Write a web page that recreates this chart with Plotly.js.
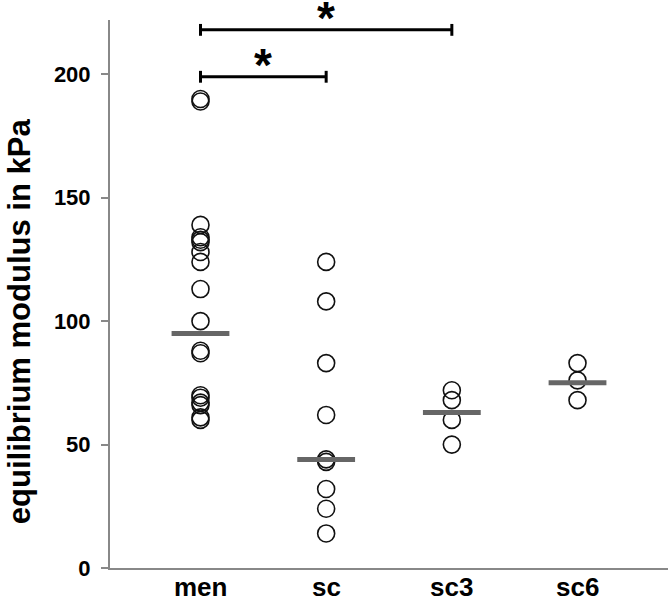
<!DOCTYPE html>
<html>
<head>
<meta charset="utf-8">
<script src="https://cdn.plot.ly/plotly-3.0.1.min.js"></script>
<style>
  html, body { margin: 0; padding: 0; background: #fff; }
  #chart { width: 668px; height: 601px; }
</style>
</head>
<body>
<div id="chart"></div>
<script>
// 類別與數值
const groups = ["men", "sc", "sc3", "sc6"];
const menValues = [190, 189, 139, 134, 133, 132, 128, 124, 113, 100, 88, 87, 70, 69, 67, 66, 61, 60];
const scValues = [124, 108, 83, 62, 44, 43, 32, 24, 14];
const sc3Values = [72, 68, 60, 50];
const sc6Values = [83, 76, 68];
const medians = [95, 44, 63, 75];
// 顯著性比較：[起點組, 終點組, 高度]
const sigPairs = [[0, 2, 218], [0, 1, 199]];
const sigLabels = ["*", "*"];
const yTicks = [0, 50, 100, 150, 200];
const yTitle = "equilibrium modulus in kPa";

const allValues = [menValues, scValues, sc3Values, sc6Values];
const font = "Liberation Sans, Arial, sans-serif";
const halfW = 0.23;
const capH = 2.4;
const toBold = (t) => "<b>" + t + "</b>";

const traces = [];

allValues.forEach((vals, i) => {
  traces.push({
    x: vals.map(() => i),
    y: vals,
    type: "scatter",
    mode: "markers",
    marker: {
      symbol: "circle-open",
      size: 17,
      color: "#111",
      line: { width: 1.6, color: "#111" },
    },
    hoverinfo: "y",
  });
});

// 中位數橫線
medians.forEach((m, i) => {
  traces.push({
    x: [i - halfW, i + halfW],
    y: [m, m],
    type: "scatter",
    mode: "lines",
    line: { color: "#666", width: 5 },
    hoverinfo: "skip",
  });
});

const annotations = [];

// 顯著性橫槓
sigPairs.forEach(([a, b, h], k) => {
  traces.push({
    x: [a, a, null, a, b, null, b, b],
    y: [h - capH, h + capH, null, h, h, null, h - capH, h + capH],
    type: "scatter",
    mode: "lines",
    line: { color: "#000", width: 3 },
    hoverinfo: "skip",
  });
  annotations.push({
    x: (a + b) / 2,
    y: h,
    xref: "x",
    yref: "y",
    text: toBold(sigLabels[k]),
    showarrow: false,
    yanchor: "middle",
    yshift: 12,
    font: { family: font, size: 46, color: "#000" },
  });
});

// X 軸類別標籤
groups.forEach((g, i) => {
  annotations.push({
    x: i,
    y: 0,
    xref: "x",
    yref: "paper",
    yanchor: "top",
    yshift: -2,
    text: toBold(g),
    showarrow: false,
    font: { family: font, size: 26, color: "#000" },
  });
});

// Y 軸標題
annotations.push({
  x: 0,
  xref: "paper",
  xanchor: "center",
  xshift: -91,
  y: 100,
  yref: "y",
  yanchor: "middle",
  textangle: -90,
  text: toBold(yTitle),
  showarrow: false,
  font: { family: font, size: 31, color: "#000" },
});

const layout = {
  width: 668,
  height: 601,
  showlegend: false,
  paper_bgcolor: "white",
  plot_bgcolor: "white",
  margin: { l: 110, r: 0, t: 20, b: 33 },
  font: { family: font, color: "#000" },
  xaxis: {
    type: "linear",
    range: [-0.72, 3.72],
    showticklabels: false,
    showgrid: false,
    zeroline: false,
    showline: true,
    linecolor: "#888",
    linewidth: 2,
    ticks: "",
  },
  yaxis: {
    range: [0, 222],
    tickvals: yTicks,
    ticktext: yTicks.map((t) => toBold(t)),
    showgrid: false,
    zeroline: false,
    showline: true,
    linecolor: "#888",
    linewidth: 2,
    ticks: "outside",
    ticklen: 7,
    tickwidth: 2,
    tickcolor: "#888",
    ticklabelstandoff: 6,
    tickfont: { family: font, size: 22, color: "#000" },
  },
  annotations: annotations,
};

Plotly.newPlot("chart", traces, layout, { displayModeBar: false, staticPlot: true });
</script>
</body>
</html>
